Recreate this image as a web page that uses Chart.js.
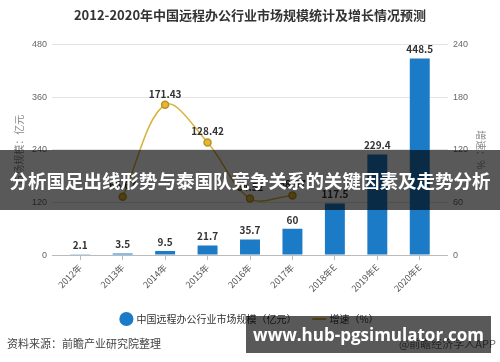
<!DOCTYPE html>
<html>
<head>
<meta charset="utf-8">
<script src="https://cdn.jsdelivr.net/npm/chart.js@4.4.1/dist/chart.umd.min.js"></script>
<style>
  body { margin: 0; background: #fff; }
  #wrap { position: relative; width: 500px; height: 362px; font-family: "Noto Sans CJK SC", sans-serif; }
  #source { position: absolute; left: 7px; top: 335px; font-size: 11px; color: #444; }
  #credit { position: absolute; right: 4px; top: 335px; font-size: 11px; color: #666; }
  .banner { position: absolute; background: rgba(0,0,0,0.65); color: #fff; font-weight: bold; white-space: nowrap; }
  #banner1 { left: 0; top: 150px; width: 500px; height: 60px; line-height: 60px; font-size: 18.5px; text-align: center; }
  #banner2 { left: 246px; top: 316px; width: 245px; height: 37px; line-height: 37px; font-size: 17px; text-align: center; font-family: "Open Sans", sans-serif; }
</style>
</head>
<body>
<div id="wrap">
  <canvas id="chart" width="500" height="362"></canvas>
  <div id="source">资料来源：前瞻产业研究院整理</div>
  <div id="credit">@前瞻经济学人APP</div>
  <div class="banner" id="banner1">分析国足出线形势与泰国队竞争关系的关键因素及走势分析</div>
  <div class="banner" id="banner2">www.hub-pgsimulator.com</div>
</div>
<script>
const years = ['2012年', '2013年', '2014年', '2015年', '2016年', '2017年', '2018年E', '2019年E', '2020年E'];
const marketSize = [2.1, 3.5, 9.5, 21.7, 35.7, 60, 117.5, 229.4, 448.5];
const growthRate = [null, 66.67, 171.43, 128.42, 64.52, 68.07, null, null, null];
const leftTicks = [0, 120, 240, 360, 480];
const rightTicks = [0, 60, 120, 180, 240];

const barColor = '#1b7bc6';
const lineColor = '#d9b23a';

// value labels above bars and line points
const valueLabels = {
    id: 'valueLabels',
    afterDatasetsDraw(chart) {
        const ctx = chart.ctx;
        ctx.save();
        ctx.font = 'bold 10px "Noto Sans CJK SC", sans-serif';
        ctx.fillStyle = '#333';
        ctx.textAlign = 'center';
        ctx.textBaseline = 'bottom';
        chart.data.datasets.forEach(function(ds, i) {
            chart.getDatasetMeta(i).data.forEach(function(el, j) {
                const v = ds.data[j];
                if (v == null) return;
                ctx.fillText(String(v), el.x, el.y - (ds.type === 'line' ? 6 : 4));
            });
        });
        ctx.restore();
    }
};

const ctx = document.getElementById('chart').getContext('2d');
new Chart(ctx, {
    data: {
        labels: years,
        datasets: [
            {
                type: 'line',
                label: '增速（%）',
                data: growthRate,
                yAxisID: 'y1',
                borderColor: lineColor,
                backgroundColor: '#e8b828',
                pointBorderColor: '#b8922a',
                pointRadius: 3.5,
                borderWidth: 1.5,
                tension: 0.35,
                spanGaps: false,
                order: 0
            },
            {
                type: 'bar',
                label: '中国远程办公行业市场规模（亿元）',
                data: marketSize,
                yAxisID: 'y',
                backgroundColor: barColor,
                barPercentage: 0.47,
                categoryPercentage: 1,
                order: 1
            }
        ]
    },
    options: {
        responsive: false,
        animation: false,
        layout: { padding: { left: 11, right: 11, top: 0, bottom: 28 } },
        plugins: {
            title: {
                display: true,
                text: '2012-2020年中国远程办公行业市场规模统计及增长情况预测',
                color: '#333',
                font: { size: 13, weight: 'bold', family: '"Noto Sans CJK SC", sans-serif' },
                padding: { top: 7, bottom: 22 }
            },
            legend: {
                position: 'bottom',
                reverse: true,
                labels: {
                    usePointStyle: true,
                    boxWidth: 10,
                    boxHeight: 10,
                    padding: 18,
                    color: '#333',
                    font: { size: 10, family: '"Noto Sans CJK SC", sans-serif' },
                    generateLabels: function(chart) {
                        const items = Chart.defaults.plugins.legend.labels.generateLabels(chart);
                        items.forEach(function(it) {
                            if (it.datasetIndex === 0) {
                                it.pointStyle = 'line';
                                it.strokeStyle = lineColor;
                                it.lineWidth = 2;
                            } else {
                                it.pointStyle = 'circle';
                            }
                        });
                        return items;
                    }
                }
            },
            tooltip: { enabled: false }
        },
        scales: {
            x: {
                grid: { display: true, drawOnChartArea: false, offset: false, tickLength: 5, color: '#bbb' },
                border: { color: '#bbb' },
                ticks: {
                    color: '#555',
                    font: { size: 9, family: '"Noto Sans CJK SC", sans-serif' },
                    maxRotation: 45,
                    minRotation: 45,
                    padding: 2
                }
            },
            y: {
                position: 'left',
                min: 0,
                max: 480,
                afterBuildTicks: function(axis) { axis.ticks = leftTicks.map(v => ({ value: v })); },
                grid: { color: function(c) { return c.tick && c.tick.value === 0 ? '#bbb' : '#e3e3e3'; }, tickLength: 7 },
                border: { display: false },
                ticks: { color: '#666', font: { size: 9 }, padding: 5 },
                title: {
                    display: true,
                    text: '市场规模：亿元',
                    color: '#888',
                    font: { size: 10, family: '"Noto Sans CJK SC", sans-serif' },
                    padding: 2
                }
            },
            y1: {
                position: 'right',
                min: 0,
                max: 240,
                afterBuildTicks: function(axis) { axis.ticks = rightTicks.map(v => ({ value: v })); },
                grid: { drawOnChartArea: false, tickLength: 7, color: function(c) { return c.tick && c.tick.value === 0 ? '#bbb' : '#e3e3e3'; } },
                border: { display: false },
                ticks: { color: '#666', font: { size: 9 }, padding: 5 },
                title: {
                    display: true,
                    text: '增速：%',
                    color: '#888',
                    font: { size: 10, family: '"Noto Sans CJK SC", sans-serif' },
                    padding: 2
                }
            }
        }
    },
    plugins: [valueLabels]
});
</script>
</body>
</html>
